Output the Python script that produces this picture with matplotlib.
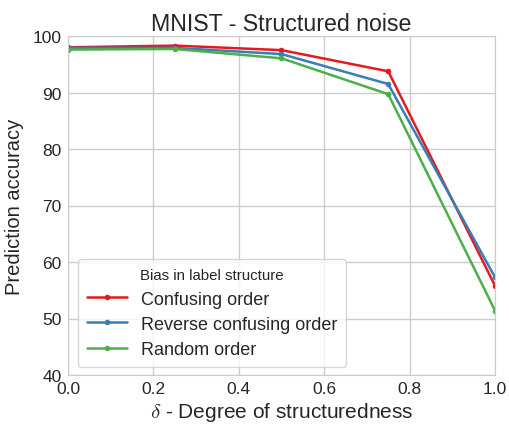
import matplotlib
matplotlib.use("Agg")
import matplotlib.pyplot as plt
import seaborn as sns

sns.set_style("whitegrid")
plt.rcParams['font.family'] = ['Liberation Sans', 'DejaVu Sans']
plt.rcParams['mathtext.fontset'] = 'cm'

delta = [0.0, 0.25, 0.5, 0.75, 1.0]
confusing = [98.0, 98.3, 97.5, 93.75, 55.8]
reverse = [97.9, 97.9, 96.8, 91.5, 57.3]
random_order = [97.6, 97.7, 96.05, 89.7, 51.4]
series_labels = ["Confusing order", "Reverse confusing order", "Random order"]
colors = ["#e41a1c", "#377eb8", "#4daf4a"]

fig = plt.figure(figsize=(5.10, 4.27), dpi=100)
ax = fig.add_axes([68/510, 1 - 376/427, (495-68)/510, (376-37)/427])

for ys, lab, c in zip([confusing, reverse, random_order], series_labels, colors):
    ax.plot(delta, ys, color=c, linewidth=1.8, marker="o", markersize=3, label=lab)

ax.set_xlim(0, 1.0)
ax.set_ylim(40, 100)
ax.set_xticks([0.0, 0.2, 0.4, 0.6, 0.8, 1.0])
ax.set_yticks([40, 50, 60, 70, 80, 90, 100])
ax.tick_params(labelsize=12.5, colors="#262626", length=0, pad=4.5)
for s in ax.spines.values():
    s.set_color("#cccccc")
ax.grid(color="#cccccc", linewidth=1)
ax.set_title("MNIST - Structured noise", fontsize=16.7, color="#262626", pad=4)
ax.set_xlabel(r"$\delta$ - Degree of structuredness", fontsize=15, color="#262626", labelpad=3)
ax.set_ylabel("Prediction accuracy", fontsize=14.5, color="#262626", labelpad=6)

leg = ax.legend(loc="lower left", bbox_to_anchor=(0.023, 0.024), borderaxespad=0,
                title="Bias in label structure",
                fontsize=13, title_fontsize=10.8, frameon=True, handlelength=2.2,
                borderpad=0.5, labelspacing=0.45)
leg.get_frame().set_edgecolor("#cccccc")
leg.get_frame().set_linewidth(1)
leg.get_title().set_color("#262626")

fig.savefig("out.png", dpi=100)
